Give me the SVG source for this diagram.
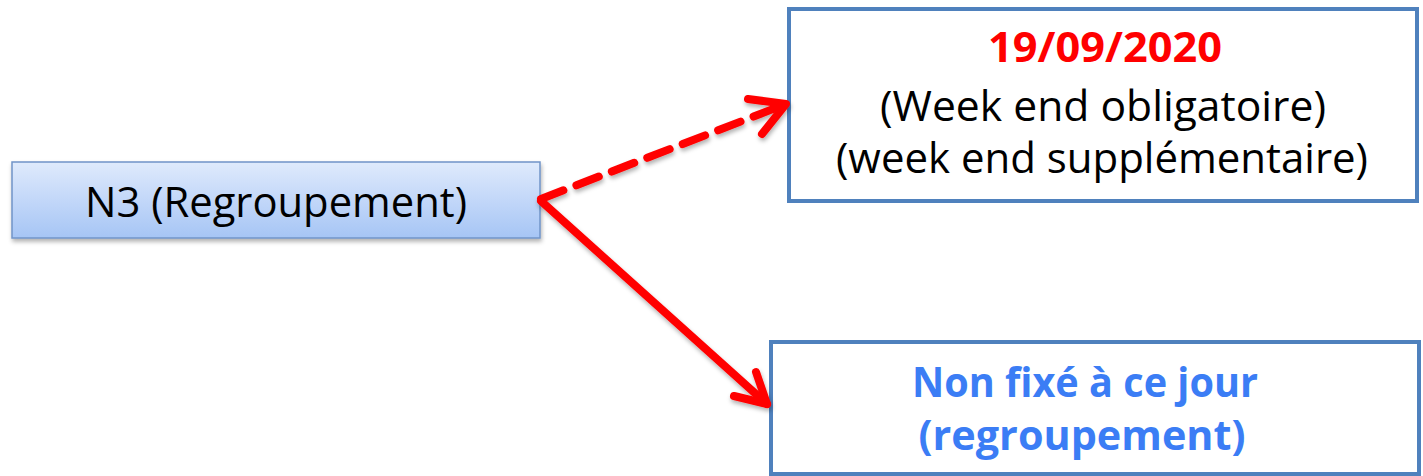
<svg xmlns="http://www.w3.org/2000/svg" width="1423" height="476" viewBox="0 0 1423 476">
<defs>
<linearGradient id="g1" x1="0" y1="0" x2="0" y2="1">
<stop offset="0" stop-color="#dfeafc"/>
<stop offset="1" stop-color="#a6c5f5"/>
</linearGradient>
<filter id="sh" x="-10%" y="-10%" width="120%" height="130%">
<feDropShadow dx="1" dy="3" stdDeviation="2" flood-color="#000" flood-opacity="0.3"/>
</filter>
</defs>
<style>
.t{font-family:"Open Sans","Liberation Sans",sans-serif;text-anchor:middle;font-size:42px}
.box{fill:#fff;stroke:#4f81bd;stroke-width:4}
.arr{fill:none;stroke:#ff0000;stroke-width:8;stroke-linecap:round;stroke-linejoin:round}
</style>
<g id="n3">
<rect x="12" y="162" width="528" height="76" fill="url(#g1)" stroke="#7094c8" stroke-width="1.5" filter="url(#sh)"/>
<text class="t" x="276" y="217" fill="#000" textLength="382" lengthAdjust="spacingAndGlyphs">N3 (Regroupement)</text>
</g>
<g id="box1">
<rect class="box" x="789" y="9" width="628" height="192"/>
<text class="t" x="1105" y="62" font-weight="bold" fill="#ff0000" textLength="234" lengthAdjust="spacingAndGlyphs">19/09/2020</text>
<text class="t" x="1103" y="121" fill="#000" textLength="446" lengthAdjust="spacingAndGlyphs">(Week end obligatoire)</text>
<text class="t" x="1102" y="173" fill="#000" textLength="532" lengthAdjust="spacingAndGlyphs">(week end supplémentaire)</text>
</g>
<g id="box2">
<rect class="box" x="771" y="342" width="648" height="132"/>
<text class="t" x="1085" y="397" font-weight="bold" fill="#3b7df5" textLength="346" lengthAdjust="spacingAndGlyphs">Non fixé à ce jour</text>
<text class="t" x="1082" y="450" font-weight="bold" fill="#3b7df5" textLength="327" lengthAdjust="spacingAndGlyphs">(regroupement)</text>
</g>
<g id="connectors" filter="url(#sh)">
<path class="arr" d="M541,199 L786,104" stroke-dasharray="24 14"/>
<polyline class="arr" points="748,99 786,104 762,134"/>
<path class="arr" d="M541,201 L767,404"/>
<polyline class="arr" points="756,372 767,404 734,396"/>
</g>
</svg>
